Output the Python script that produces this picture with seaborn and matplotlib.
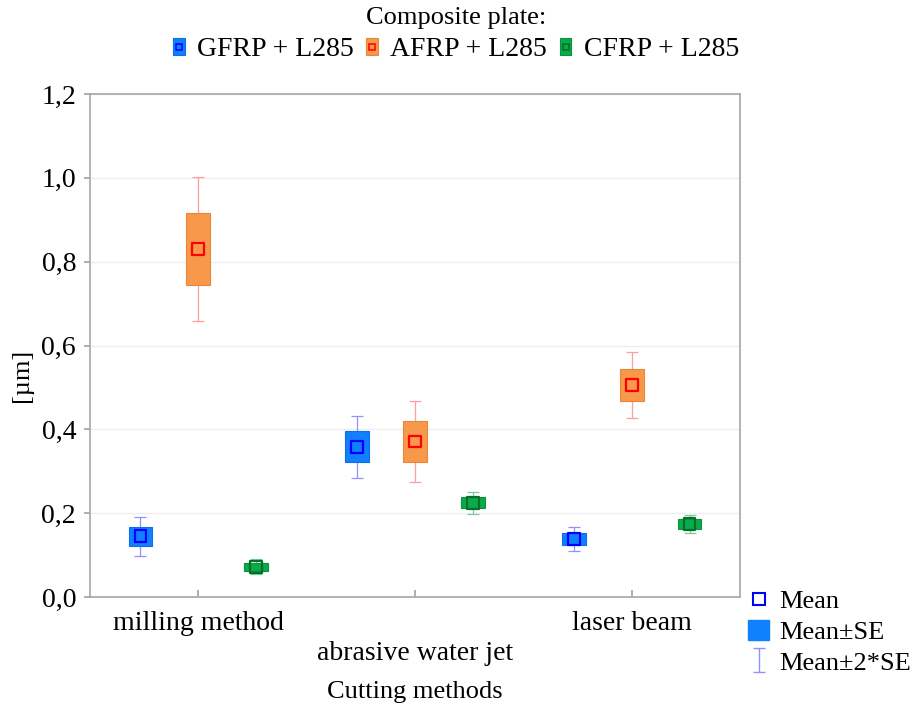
import matplotlib
matplotlib.use("Agg")
import pandas as pd
import matplotlib.pyplot as plt
import seaborn as sns
from matplotlib.lines import Line2D
from matplotlib.patches import Patch
from matplotlib.path import Path
from matplotlib.legend_handler import HandlerTuple

# data (mean and standard error per plate / cutting method)
methods = ["milling method", "abrasive water jet", "laser beam"]
plates = ["GFRP + L285", "AFRP + L285", "CFRP + L285"]
gfrp_mean = [0.145, 0.358, 0.138]
gfrp_se = [0.023, 0.037, 0.014]
afrp_mean = [0.830, 0.371, 0.506]
afrp_se = [0.086, 0.048, 0.039]
cfrp_mean = [0.072, 0.225, 0.174]
cfrp_se = [0.009, 0.013, 0.011]
yticks = [0.0, 0.2, 0.4, 0.6, 0.8, 1.0, 1.2]
ytick_labels = ["0,0", "0,2", "0,4", "0,6", "0,8", "1,0", "1,2"]

rows = []
for plate, means, ses in zip(plates, [gfrp_mean, afrp_mean, cfrp_mean], [gfrp_se, afrp_se, cfrp_se]):
    for m, mu, se in zip(methods, means, ses):
        rows.append({"method": m, "plate": plate, "mean": mu, "se": se})
df = pd.DataFrame(rows)

styles = {
    "GFRP + L285": dict(fill="#1080FF", edge="#0A6FE8", mean="#0000FF", whisk="#9090FF", off=-0.267),
    "AFRP + L285": dict(fill="#F7984A", edge="#E8863A", mean="#FF0000", whisk="#FF9E9E", off=0.0),
    "CFRP + L285": dict(fill="#0BAA4B", edge="#08943F", mean="#04702A", whisk="#80C99C", off=0.267),
}
df["x"] = df["method"].map({m: i for i, m in enumerate(methods)}) + df["plate"].map(lambda p: styles[p]["off"])

sns.set_theme(style="ticks")
plt.rcParams["font.family"] = ["Liberation Serif", "DejaVu Serif"]
plt.rcParams.update({"text.color": "black", "axes.labelcolor": "black",
                     "xtick.labelcolor": "black", "ytick.labelcolor": "black"})

fig = plt.figure(figsize=(9.12, 7.09), dpi=100)
ax = fig.add_axes([90 / 912, 112 / 709, 650 / 912, 503 / 709])

for plate in plates:
    d = df[df["plate"] == plate]
    st = styles[plate]
    ax.errorbar(d["x"], d["mean"], yerr=2 * d["se"], fmt="none", ecolor=st["whisk"],
                elinewidth=0.9, capsize=4.5, capthick=0.9, zorder=2)
    ax.bar(d["x"], 2 * d["se"], bottom=d["mean"] - d["se"], width=0.11,
           color=st["fill"], edgecolor=st["edge"], linewidth=0.8, zorder=3)
    sns.scatterplot(x=d["x"].values, y=d["mean"].values, marker="s", s=72,
                    facecolor="none", edgecolor=st["mean"], linewidth=1.6, zorder=4, ax=ax)
    ax.collections[-1].set_facecolor("none")
    ax.collections[-1].set_edgecolor(st["mean"])

ax.set_xlim(-0.5, 2.5)
ax.set_ylim(0, 1.2)
ax.set_yticks(yticks)
ax.set_yticklabels(ytick_labels, fontsize=20)
ax.set_xticks(range(len(methods)))
xlabels = [methods[0], "\n" + methods[1], methods[2]]
ax.set_xticklabels(xlabels, fontsize=20, linespacing=1.25)
ax.set_xlabel("Cutting methods", fontsize=19, labelpad=11)
ax.set_ylabel("[µm]", fontsize=19)
ax.yaxis.set_label_coords(-0.088, 0.44)

ax.yaxis.grid(True, color="#EEEEEE", linewidth=1)
ax.set_axisbelow(True)
for s in ax.spines.values():
    s.set_visible(True)
    s.set_color("#A6A6A6")
    s.set_linewidth(1.2)
ax.tick_params(axis="y", direction="out", length=4, color="#A6A6A6", pad=6)
ax.tick_params(axis="x", direction="in", length=5, color="#A6A6A6", pad=10)

# top legend: composite plates
fig.text(0.5, 1 - 18 / 709, "Composite plate:", ha="center", va="center", fontsize=19)
handles = []
for plate in plates:
    st = styles[plate]
    outer = Patch(facecolor=st["fill"], edgecolor=st["edge"], linewidth=0.8)
    inner = Line2D([], [], marker="s", ls="", ms=4.5, mfc="none", mec=st["mean"], mew=1.1)
    handles.append((outer, inner))
fig.legend(handles, plates, handler_map={tuple: HandlerTuple(ndivide=1)},
           loc="center", bbox_to_anchor=(0.5, 1 - 50 / 709), ncol=3, frameon=False,
           fontsize=20, handlelength=0.42, handleheight=0.55,
           handletextpad=0.45, columnspacing=0.45, borderaxespad=0, borderpad=0)

# bottom-right legend: statistics
ibeam = Path([(-0.5, 1), (0.5, 1), (0, 1), (0, -1), (-0.5, -1), (0.5, -1)],
             [Path.MOVETO, Path.LINETO, Path.MOVETO, Path.LINETO, Path.MOVETO, Path.LINETO])
h_mean = Line2D([], [], marker="s", ls="", ms=9, mfc="none", mec="#0000FF", mew=1.5)
h_se = Patch(facecolor="#1080FF", edgecolor="#1080FF")
h_2se = Line2D([], [], marker=ibeam, ls="", ms=17, mfc="none", mec="#9090FF", mew=1.0)
fig.legend([h_mean, h_se, h_2se], ["Mean", "Mean±SE", "Mean±2*SE"],
           loc="upper left", bbox_to_anchor=(748 / 912, 1 - 589 / 709), frameon=False,
           fontsize=19, handlelength=0.8, handleheight=0.8, handletextpad=0.4,
           labelspacing=0.25, borderaxespad=0, borderpad=0)

fig.savefig("out.png", dpi=100)
